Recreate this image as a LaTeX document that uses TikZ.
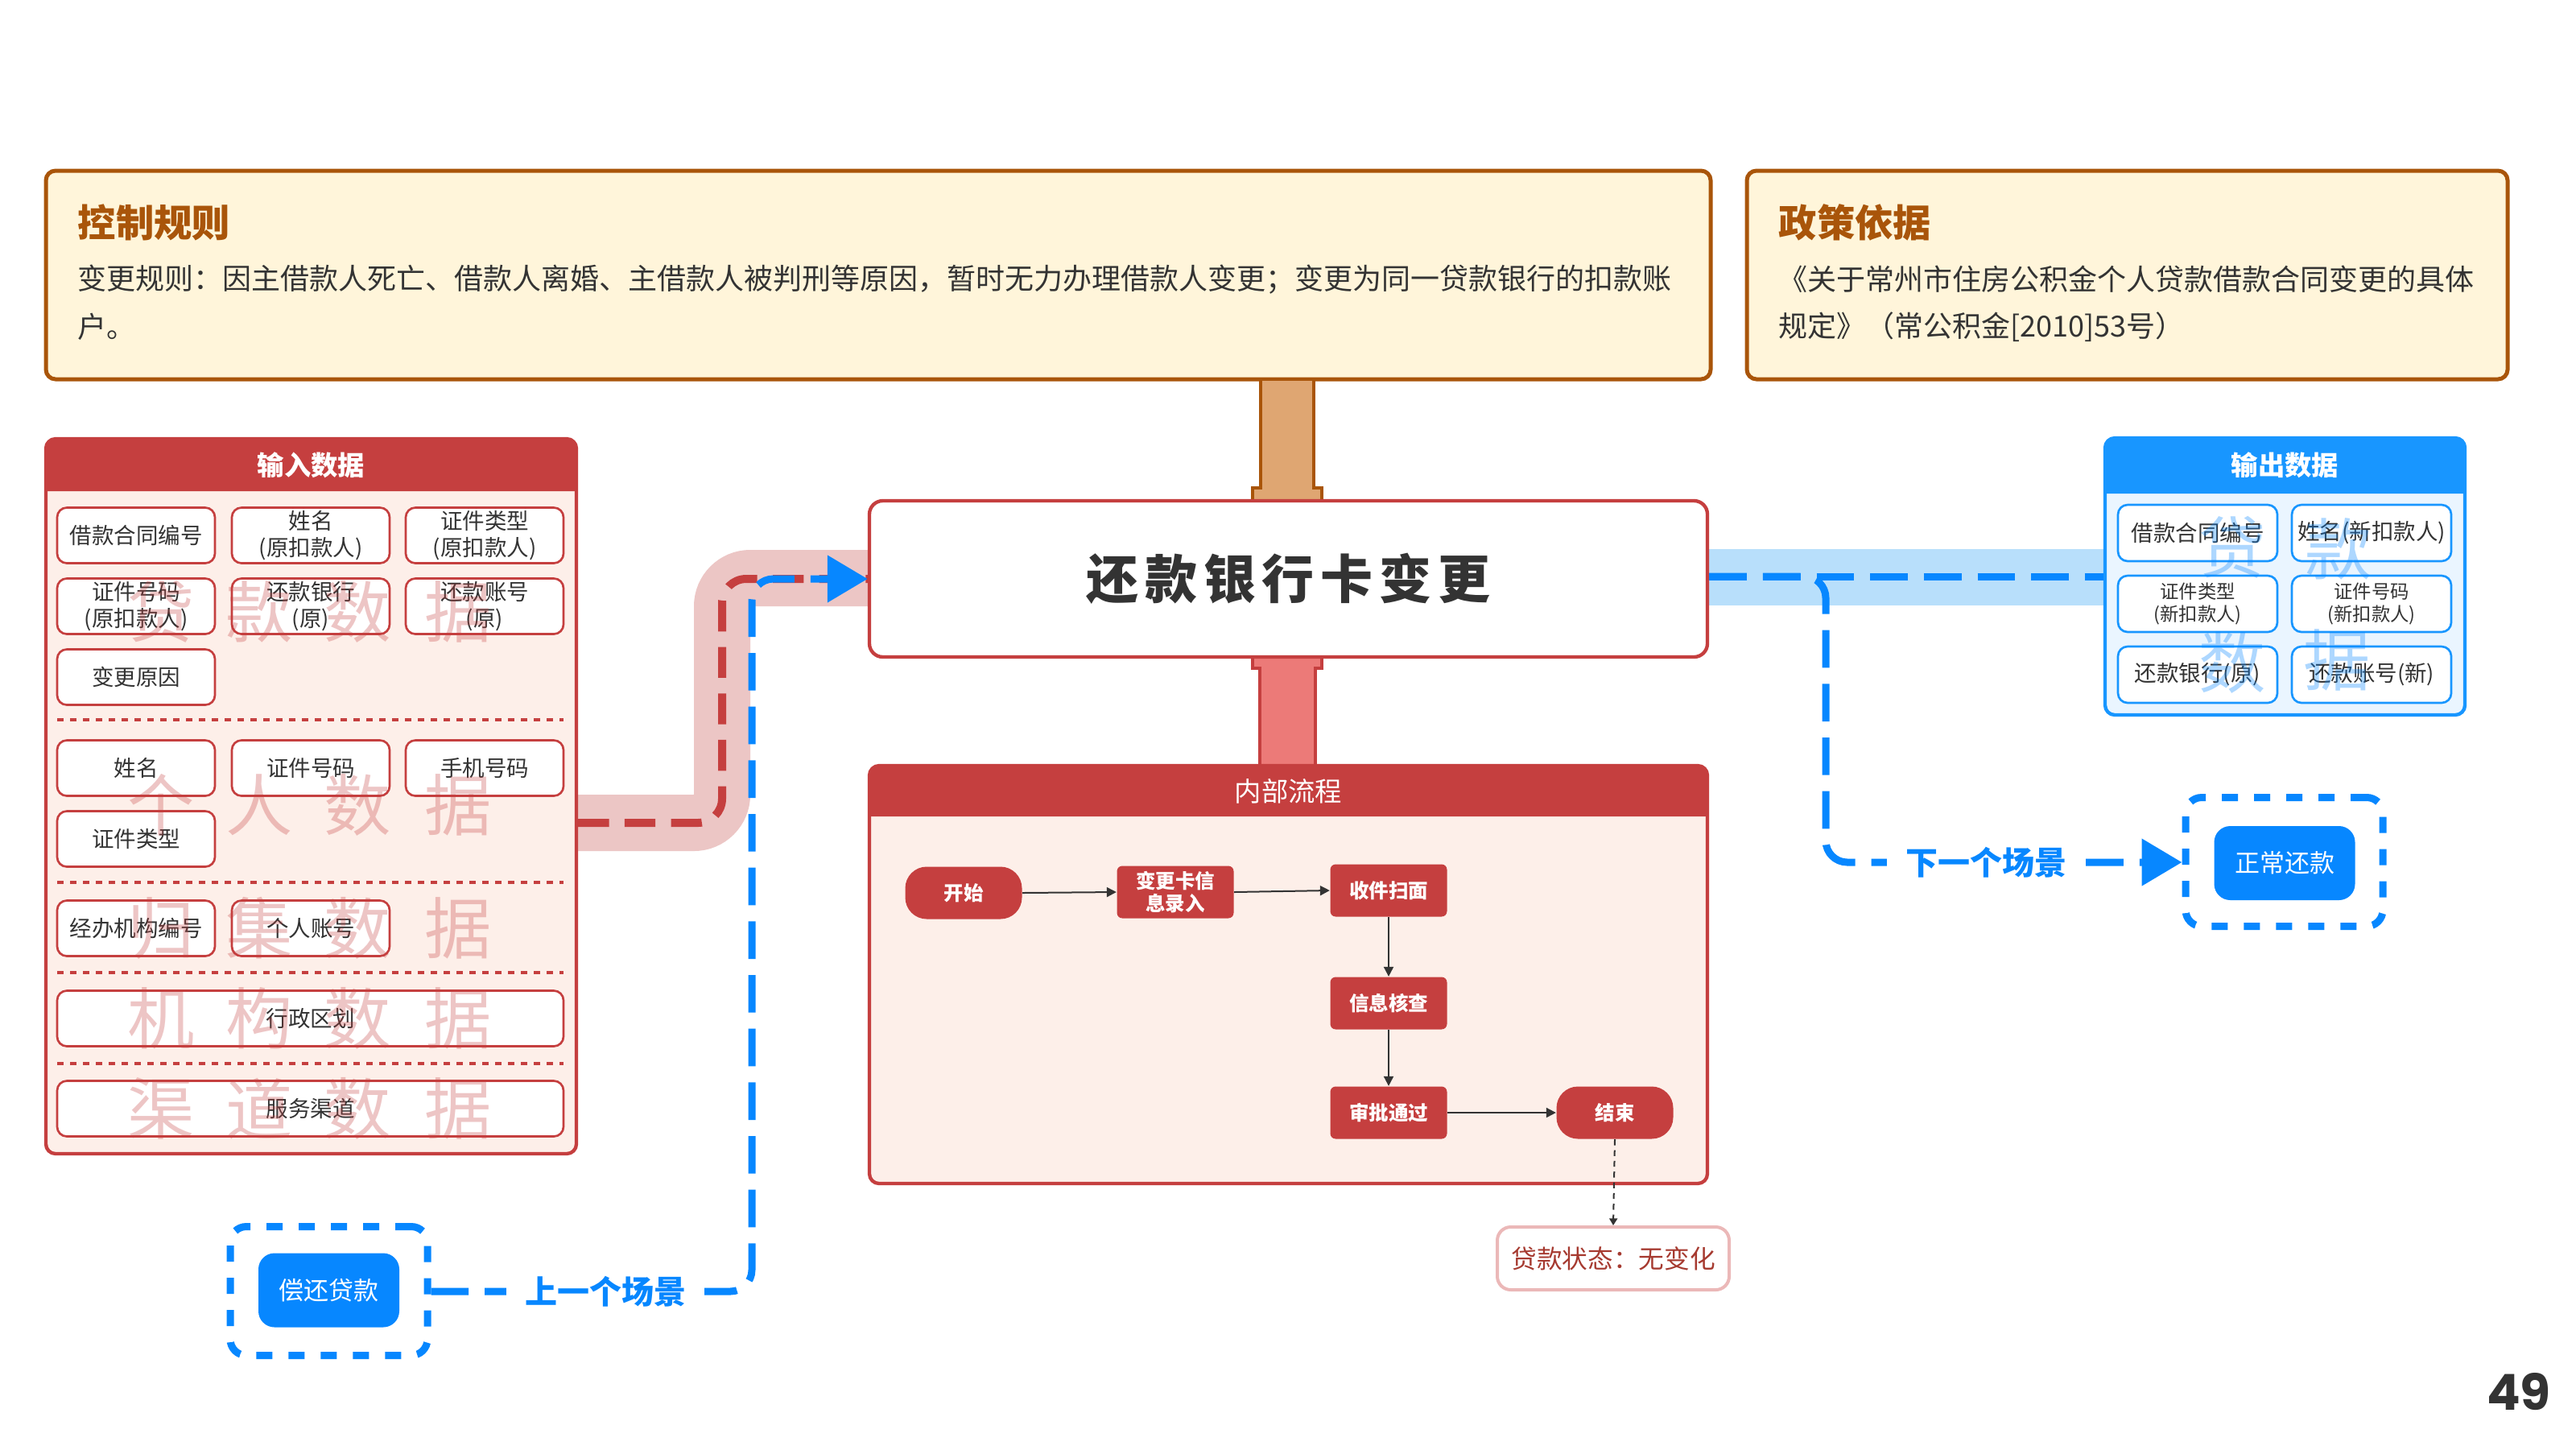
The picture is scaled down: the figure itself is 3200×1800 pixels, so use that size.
\documentclass[tikz,border=0pt]{standalone}
\usepackage{fontspec}
\setmainfont{Noto Sans CJK SC}
\newfontfamily\numfont{Poppins}
\newfontfamily\titlefont[LetterSpace=12]{Noto Sans CJK SC}
\usetikzlibrary{arrows.meta}
\newcommand\myfs[2]{\fontsize{#1}{#2}\selectfont}
\definecolor{cText}{HTML}{333333}
\definecolor{cBrown}{HTML}{A9550A}
\definecolor{cCream}{HTML}{FFF5DA}
\definecolor{cOrange}{HTML}{DFA672}
\definecolor{cRed}{HTML}{C53F3F}
\definecolor{cRedConn}{HTML}{EC7A78}
\definecolor{cBody}{HTML}{FDEFE9}
\definecolor{cBand}{HTML}{ECC6C5}
\definecolor{cBlueH}{HTML}{1896FF}
\definecolor{cBlueD}{HTML}{0787FF}
\definecolor{cBlueBody}{HTML}{EAF5FF}
\definecolor{cBlueBand}{HTML}{B8DFFB}
\definecolor{cStatus}{HTML}{EBB8B8}
\definecolor{cStatusText}{HTML}{A63A30}
\tikzset{
  topbox/.style={draw=cBrown, fill=cCream, line width=1.5pt, rounded corners=3.6pt},
  toptitle/.style={anchor=west, inner sep=0pt, text=cBrown, font=\bfseries\myfs{14.2}{16}},
  toptext/.style={anchor=west, inner sep=0pt, text=cText, font=\myfs{10.8}{13}},
  container/.style={inner sep=0pt, rounded corners=3.6pt, line width=1.3pt},
  hdrtext/.style={text=white, inner sep=0pt, font=\bfseries\myfs{10}{12}},
  inbox/.style={draw=cRed, fill=white, line width=0.8pt, rounded corners=3.6pt,
    minimum width=58.8pt, minimum height=20.7pt, inner sep=0pt, align=center,
    text=cText, font=\myfs{8.25}{9.9}},
  widebox/.style={inbox, minimum width=188.7pt},
  outbox/.style={inbox, draw=cBlueH, minimum width=59.4pt, minimum height=21pt},
  smallout/.style={outbox, font=\myfs{7}{8.4}},
  sep/.style={cRed, line width=1.2pt, dash pattern=on 2.4pt off 2.4pt},
  wm/.style={text=cRed, text opacity=0.3, inner sep=0pt, font=\myfs{25}{25}},
  wmb/.style={text=cBlueD, text opacity=0.33, inner sep=0pt, font=\myfs{25}{25}},
  flowbox/.style={fill=cRed, rounded corners=2pt, minimum width=43.5pt, minimum height=19.5pt,
    inner sep=0pt, align=center, text=white, font=\bfseries\myfs{7.35}{8.6}},
  flowend/.style={flowbox, rounded corners=8pt},
  flowarrow/.style={cText, line width=0.6pt, -{Triangle[length=3.6pt,width=3.6pt]}},
  redconn/.style={cRed, line width=3pt, dash pattern=on 11.5pt off 5.8pt, rounded corners=9pt},
  blueconn/.style={cBlueD, line width=2.7pt, dash pattern=on 14pt off 6pt, rounded corners=8pt},
  bigtip/.style={-{Triangle[length=15pt,width=17pt]}},
  scenebox/.style={draw=cBlueD, line width=2.7pt, dash pattern=on 6pt off 6pt, rounded corners=6pt,
    minimum width=73.5pt, minimum height=48pt, inner sep=0pt},
  scenebtn/.style={fill=cBlueD, rounded corners=6pt, minimum width=52.5pt, minimum height=27.6pt,
    inner sep=0pt, text=white, font=\myfs{9.3}{11}},
  scenelabel/.style={fill=white, inner sep=7pt, text=cBlueD, font=\bfseries\myfs{12}{14}},
}
\begin{document}
\begin{tikzpicture}[x=0.3pt, y=-0.3pt]
\useasboundingbox[fill=white] (0,0) rectangle (3200,1800);

% ---------- bands under connectors ----------
\draw[cBand, line width=21pt, rounded corners=10.5pt] (716,1022) -- (897,1022) -- (897,718) -- (1080,718);
\draw[cBlueBand, line width=21pt] (2121,717) -- (2615,717);

% ---------- top boxes ----------
\draw[topbox] (57,212) rectangle (2125,471);
\node[toptitle] (t1) at (96,276) {控制规则};
\node[toptext] (t1a) at (96,347) {变更规则：因主借款人死亡、借款人离婚、主借款人被判刑等原因，暂时无力办理借款人变更；变更为同一贷款银行的扣款账};
\node[toptext] (t1b) at (96,406) {户。};

\draw[topbox] (2170,212) rectangle (3115,471);
\node[toptitle] (t2) at (2209,276) {政策依据};
\node[toptext] (t2a) at (2209,347) {《关于常州市住房公积金个人贷款借款合同变更的具体};
\node[toptext] (t2b) at (2209,406) {规定》（常公积金[2010]53号）};

% ---------- vertical connectors ----------
\draw[fill=cOrange, draw=cBrown, line width=1.2pt]
  (1566,471) -- (1632,471) -- (1632,606) -- (1642,606) -- (1642,622) -- (1556,622) -- (1556,606) -- (1566,606) -- cycle;
\draw[fill=cRedConn, draw=cRed, line width=1.2pt]
  (1556,816) -- (1642,816) -- (1642,830) -- (1634,830) -- (1634,951) -- (1565,951) -- (1565,830) -- (1556,830) -- cycle;

% ---------- main box ----------
\node[draw=cRed, fill=white, line width=1.3pt, rounded corners=5pt, minimum width=312.3pt, minimum height=58.2pt,
  inner sep=0pt, text=cText, font=\titlefont\bfseries\myfs{19.5}{22}] (main) at (1600.5,719) {还款银行卡变更};

% ---------- internal process ----------
\node[container, fill=cBody, minimum width=312.3pt, minimum height=155.7pt] (proc) at (1600.5,1210.5) {};
\fill[cRed] (1080,1014) [rounded corners=3.6pt] -- (1080,951) -- (2121,951) [sharp corners] -- (2121,1014) -- cycle;
\draw[cRed, line width=1.3pt, rounded corners=3.6pt] (1080,951) rectangle (2121,1470);
\node[text=white, inner sep=0pt, font=\myfs{10}{12}] (proch) at (1600.5,983) {内部流程};

\node[flowend] (fs) at (1197,1109) {开始};
\node[flowbox] (f1) at (1460,1108) {变更卡信\\息录入};
\node[flowbox] (f2) at (1725,1106) {收件扫面};
\node[flowbox] (f3) at (1725,1246) {信息核查};
\node[flowbox] (f4) at (1725,1382) {审批通过};
\node[flowend] (fe) at (2006,1382) {结束};
\draw[flowarrow] (fs.east) -- (f1.west);
\draw[flowarrow] (f1.east) -- (f2.west);
\draw[flowarrow] (f2.south) -- (f3.north);
\draw[flowarrow] (f3.south) -- (f4.north);
\draw[flowarrow] (f4.east) -- (fe.west);

\node[draw=cStatus, fill=white, line width=1.2pt, rounded corners=5pt, minimum width=86.4pt, minimum height=23.4pt,
  inner sep=0pt, text=cStatusText, font=\myfs{9.5}{11}] (st) at (2004,1563) {贷款状态：无变化};
\draw[cText, line width=0.6pt, dash pattern=on 2.2pt off 1.8pt, -{Triangle[length=2.6pt,width=3pt]}] (fe.south) -- (st.north);

% ---------- input data ----------
\node[container, fill=cBody, minimum width=197.7pt, minimum height=266.4pt] (inb) at (386.5,989) {};
\fill[cRed] (57,610) [rounded corners=3.6pt] -- (57,545) -- (716,545) [sharp corners] -- (716,610) -- cycle;
\draw[cRed, line width=1.3pt, rounded corners=3.6pt] (57,545) rectangle (716,1433);
\node[hdrtext] (inh) at (386.5,578) {输入数据};

\node[inbox] (i11) at (169,665) {借款合同编号};
\node[inbox] (i12) at (386,665) {姓名\\(原扣款人)};
\node[inbox] (i13) at (602,665) {证件类型\\(原扣款人)};
\node[inbox] (i21) at (169,753) {证件号码\\(原扣款人)};
\node[inbox] (i22) at (386,753) {还款银行\\(原)};
\node[inbox] (i23) at (602,753) {还款账号\\(原)};
\node[inbox] (i31) at (169,841) {变更原因};
\draw[sep] (71,894) -- (700,894);
\node[inbox] (i41) at (169,954) {姓名};
\node[inbox] (i42) at (386,954) {证件号码};
\node[inbox] (i43) at (602,954) {手机号码};
\node[inbox] (i51) at (169,1042) {证件类型};
\draw[sep] (71,1096) -- (700,1096);
\node[inbox] (i61) at (169,1153) {经办机构编号};
\node[inbox] (i62) at (386,1153) {个人账号};
\draw[sep] (71,1208) -- (700,1208);
\node[widebox] (i71) at (385.5,1265) {行政区划};
\draw[sep] (71,1321) -- (700,1321);
\node[widebox] (i81) at (385.5,1377) {服务渠道};

\foreach \r/\y/\a/\b in {1/760/贷/款, 2/1000/个/人, 3/1153/归/集, 4/1265/机/构, 5/1377/渠/道}{
  \node[wm] (wa\r) at (200,\y) {\a};
  \node[wm] (wb\r) at (322,\y) {\b};
  \node[wm] (wc\r) at (444,\y) {数};
  \node[wm] (wd\r) at (569,\y) {据};
}

% ---------- output data ----------
\node[container, fill=cBlueBody, minimum width=134.1pt, minimum height=103.2pt] (outb) at (2838.5,716) {};
\fill[cBlueH] (2615,613) [rounded corners=3.6pt] -- (2615,544) -- (3062,544) [sharp corners] -- (3062,613) -- cycle;
\draw[cBlueH, line width=1.3pt, rounded corners=3.6pt] (2615,544) rectangle (3062,888);
\node[hdrtext] (outh) at (2838.5,578) {输出数据};

\node[outbox] (o11) at (2730,662) {借款合同编号};
\node[outbox] (o12) at (2946,662) {姓名(新扣款人)};
\node[smallout] (o21) at (2730,750) {证件类型\\(新扣款人)};
\node[smallout] (o22) at (2946,750) {证件号码\\(新扣款人)};
\node[outbox] (o31) at (2730,838) {还款银行(原)};
\node[outbox] (o32) at (2946,838) {还款账号(新)};
\node[wmb] (ow1) at (2773,680) {贷};
\node[wmb] (ow2) at (2905,682) {款};
\node[wmb] (ow3) at (2773,823) {数};
\node[wmb] (ow4) at (2903,820) {据};

% ---------- scene boxes ----------
\node[scenebox] (prev) at (408.5,1603.5) {};
\node[scenebtn] (prevb) at (408.5,1602.5) {偿还贷款};
\node[scenebox] (next) at (2837.5,1070.5) {};
\node[scenebtn] (nextb) at (2838,1072) {正常还款};

% ---------- dashed connectors ----------
\draw[redconn] (inb.east |- 0,1022) -- (897,1022) -- (897,719) -- (main.west |- 0,719);
\draw[blueconn, bigtip] (prev.east |- 0,1604) -- (934,1604) -- (934,719) -- (main.west |- 0,719);
\node[scenelabel] (lprev) at (752,1604) {上一个场景};
\draw[blueconn] (main.east |- 0,716) -- (outb.west |- 0,716);
\draw[blueconn, bigtip] (main.east |- 0,716) -- (2268,716) -- (2268,1071) -- (next.west |- 0,1071);
\node[scenelabel] (lnext) at (2467,1071) {下一个场景};

% ---------- page number ----------
\node[inner sep=0pt, text=cText, font=\numfont\bfseries\myfs{18.5}{20}] (pg) at (3129,1729) {49};
\end{tikzpicture}
\end{document}
